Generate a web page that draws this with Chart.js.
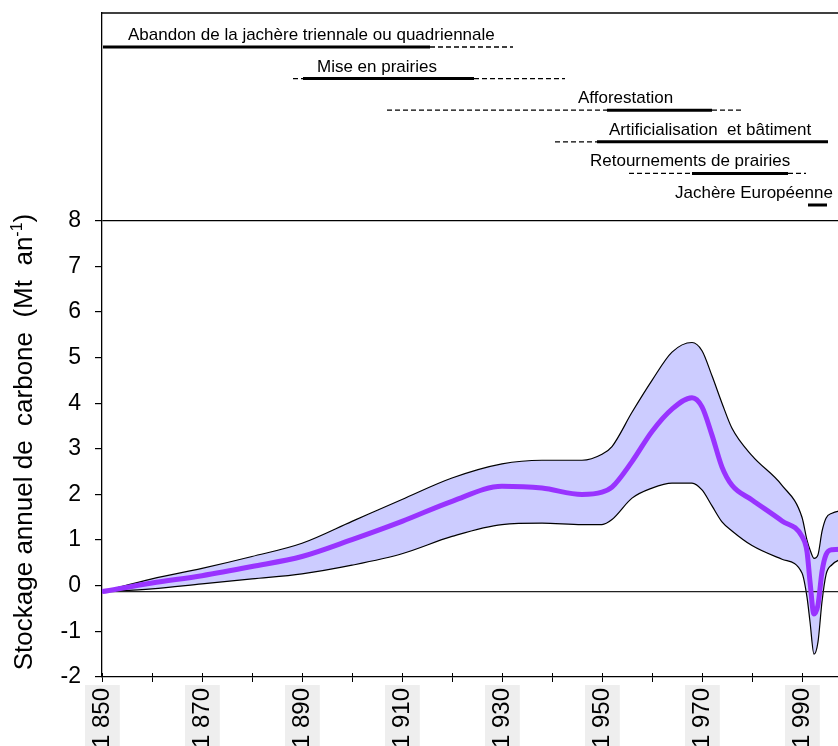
<!DOCTYPE html>
<html>
<head>
<meta charset="utf-8">
<script src="https://cdn.jsdelivr.net/npm/chart.js@4.4.1/dist/chart.umd.min.js"></script>
<style>
  html, body { margin: 0; padding: 0; overflow: hidden; background: #fff; }
  #wrap { width: 960px; height: 800px; }
</style>
</head>
<body>
<div id="wrap"><canvas id="stock" width="960" height="800"></canvas></div>
<script>
// annual carbon storage, Mt/yr
const years      = [1850, 1860, 1870, 1880, 1890, 1900, 1910, 1920, 1930, 1938, 1946, 1950, 1952, 1956, 1960, 1964, 1968, 1970, 1972, 1974, 1976, 1980, 1986, 1990, 1991, 1991.6, 1992.4, 1993.2, 1994, 1994.8, 1996, 1998];
const meanStock  = [-0.13, 0.06, 0.22, 0.42, 0.64, 1.01, 1.41, 1.85, 2.18, 2.14, 2.0, 2.05, 2.16, 2.72, 3.38, 3.87, 4.12, 3.92, 3.3, 2.6, 2.2, 1.88, 1.42, 1.08, 0.75, 0.09, -0.62, -0.42, 0.31, 0.68, 0.79, 0.8];
const upperStock = [-0.13, 0.15, 0.38, 0.64, 0.93, 1.41, 1.89, 2.36, 2.67, 2.75, 2.75, 2.88, 3.05, 3.8, 4.5, 5.12, 5.33, 5.15, 4.6, 4.0, 3.45, 2.85, 2.2, 1.5, 1.0, 0.79, 0.6, 0.68, 1.19, 1.48, 1.59, 1.65];
const lowerStock = [-0.13, -0.07, 0.04, 0.15, 0.26, 0.45, 0.7, 1.08, 1.34, 1.37, 1.34, 1.34, 1.45, 1.92, 2.14, 2.25, 2.25, 2.1, 1.75, 1.4, 1.2, 0.88, 0.58, 0.28, -0.25, -0.79, -1.5, -1.23, -0.35, 0.24, 0.46, 0.6];
const yTicks = [-2, -1, 0, 1, 2, 3, 4, 5, 6, 7, 8];
const zeroLevel = -0.13;

// land-use periods shown above the chart (years)
const activities = ['Abandon de la jachère triennale ou quadriennale', 'Mise en prairies', 'Afforestation',
  'Artificialisation  et bâtiment', 'Retournements de prairies', 'Jachère Européenne'];
const labelYear  = [1855.2, 1893, 1945.2, 1951.4, 1947.6, 1964.6];
const dashBefore = [null, [1888.2, 1890.2], [1907, 1951], [1940.6, 1949], [1955.4, 1968], null];
const solidSpan  = [[1850.2, 1915.6], [1890.2, 1924.4], [1951, 1972], [1949, 1995.2], [1968, 1987.2], [1991.2, 1995]];
const dashAfter  = [[1915.6, 1932.2], [1924.4, 1942.6], [1972, 1978], null, [1987.2, 1990.8], null];

const FONT = '"Liberation Sans", Arial, sans-serif';
const pts = arr => years.map((yr, i) => ({ x: yr, y: arr[i] }));

const periodsPlugin = {
  id: 'periods',
  afterDraw(chart) {
    const { ctx, chartArea, scales: { x } } = chart;
    ctx.save();
    ctx.strokeStyle = '#000';
    ctx.lineWidth = 1.3;
    ctx.beginPath();
    ctx.moveTo(chartArea.left, chartArea.top);
    ctx.lineTo(chartArea.right, chartArea.top);
    ctx.stroke();

    // x ticks also cross the axis a little
    ctx.lineWidth = 1;
    x.ticks.forEach(t => {
      const px = Math.round(x.getPixelForValue(t.value)) + 0.5;
      ctx.beginPath();
      ctx.moveTo(px, chartArea.bottom);
      ctx.lineTo(px, chartArea.bottom - 4);
      ctx.stroke();
    });

    const seg = (span, y, dashed) => {
      if (!span) return;
      ctx.beginPath();
      ctx.lineWidth = dashed ? 1.3 : 3;
      ctx.setLineDash(dashed ? [5, 3] : []);
      ctx.moveTo(x.getPixelForValue(span[0]), y);
      ctx.lineTo(x.getPixelForValue(span[1]), y);
      ctx.stroke();
    };
    ctx.font = '17px ' + FONT;
    ctx.fillStyle = '#000';
    ctx.textAlign = 'left';
    ctx.textBaseline = 'alphabetic';
    activities.forEach((name, i) => {
      const rowY = chartArea.top + 34 + i * 31.6;
      seg(dashBefore[i], rowY, true);
      seg(dashAfter[i], rowY, true);
      seg(solidSpan[i], rowY, false);
      ctx.fillText(name, x.getPixelForValue(labelYear[i]), rowY - 7);
    });
    ctx.setLineDash([]);

    // y axis title with superscript
    ctx.translate(32, 442);
    ctx.rotate(-Math.PI / 2);
    const main = 'Stockage annuel de  carbone  (Mt  an';
    const sup = '-1';
    const end = ')';
    ctx.font = '26px ' + FONT;
    const wMain = ctx.measureText(main).width;
    const wEnd = ctx.measureText(end).width;
    ctx.font = '16px ' + FONT;
    const wSup = ctx.measureText(sup).width;
    let cx = -(wMain + wSup + wEnd) / 2;
    ctx.font = '26px ' + FONT;
    ctx.fillText(main, cx, 0);
    cx += wMain;
    ctx.font = '16px ' + FONT;
    ctx.fillText(sup, cx, -10);
    cx += wSup;
    ctx.font = '26px ' + FONT;
    ctx.fillText(end, cx, 0);
    ctx.restore();
  }
};

new Chart(document.getElementById('stock'), {
  type: 'line',
  data: {
    datasets: [
      { label: 'Stockage moyen', data: pts(meanStock), borderColor: '#9933ff', borderWidth: 5,
        pointRadius: 0, cubicInterpolationMode: 'monotone', fill: false, order: 0 },
      { label: 'Borne haute', data: pts(upperStock), borderColor: '#000', borderWidth: 1.2,
        backgroundColor: '#ccccff', fill: '+1', pointRadius: 0, cubicInterpolationMode: 'monotone', order: 3 },
      { label: 'Borne basse', data: pts(lowerStock), borderColor: '#000', borderWidth: 1.2,
        fill: false, pointRadius: 0, cubicInterpolationMode: 'monotone', order: 2 },
      { label: 'zero', data: [{ x: 1850, y: zeroLevel }, { x: 2010, y: zeroLevel }], borderColor: '#222',
        borderWidth: 1.3, pointRadius: 0, fill: false, order: 1 }
    ]
  },
  options: {
    responsive: false,
    animation: false,
    layout: { padding: { top: 13, right: 58, left: 0, bottom: 0 } },
    plugins: { legend: { display: false }, tooltip: { enabled: false } },
    scales: {
      x: {
        type: 'linear',
        min: 1850,
        max: 2010,
        afterFit(scale) { scale.height = 123; },
        border: { color: '#000', width: 1.3 },
        grid: { drawOnChartArea: false, color: '#000', tickLength: 5 },
        ticks: {
          stepSize: 10,
          autoSkip: false,
          maxRotation: 90,
          minRotation: 90,
          padding: 6,
          labelOffset: -14,
          color: '#000',
          font: { family: FONT, size: 24 },
          showLabelBackdrop: c => !!(c.tick && (c.tick.value - 1850) % 20 === 0),
          backdropColor: '#eeeeee',
          backdropPadding: 3,
          callback: v => {
            if ((v - 1850) % 20 === 0) {
              const s = String(v);
              return s[0] + ' ' + s.slice(1);
            }
            return '';
          }
        }
      },
      y: {
        min: -2,
        max: 12.55,
        afterFit(scale) {
          scale.width = 102;
          scale.paddingTop = 0;
          scale.paddingBottom = 0;
        },
        afterBuildTicks(scale) { scale.ticks = yTicks.map(v => ({ value: v })); },
        border: { color: '#000', width: 1.3 },
        grid: {
          color: c => c.tick && c.tick.value === 8 ? '#000' : 'rgba(0,0,0,0)',
          tickColor: '#000',
          tickLength: 7,
          lineWidth: 1.2
        },
        ticks: { padding: 14, color: '#000', font: { family: FONT, size: 23 } }
      }
    }
  },
  plugins: [periodsPlugin]
});
</script>
</body>
</html>
